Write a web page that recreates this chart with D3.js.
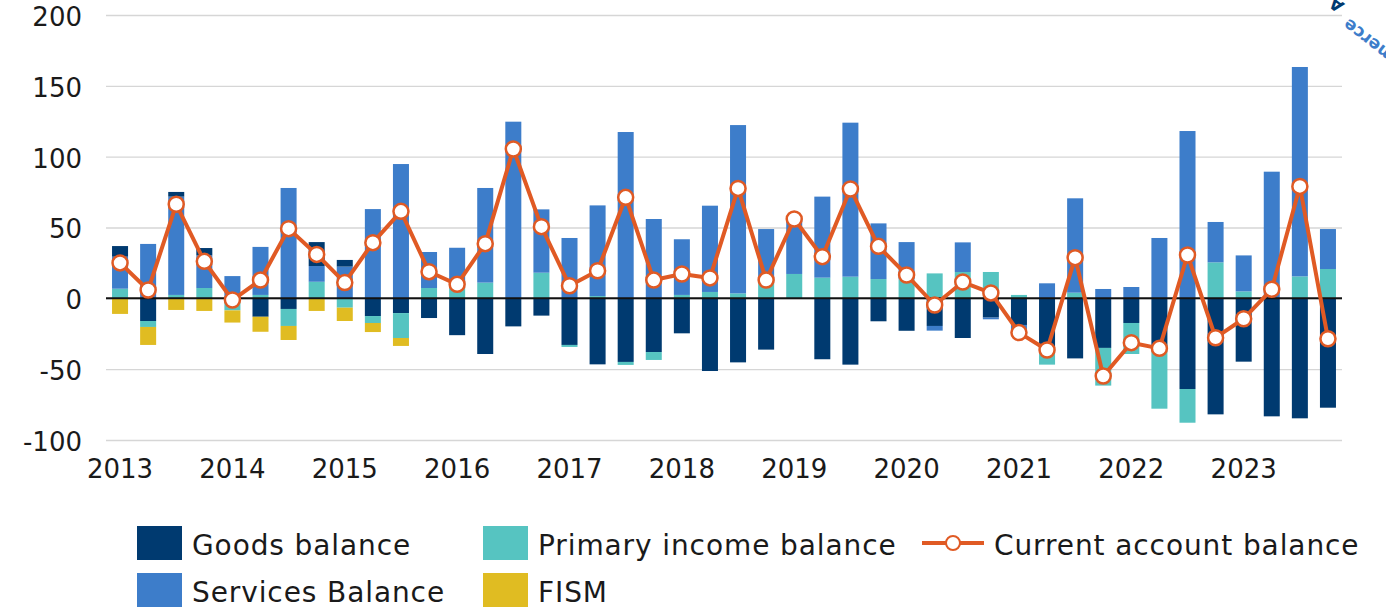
<!DOCTYPE html>
<html>
<head>
<meta charset="utf-8">
<script src="https://cdn.jsdelivr.net/npm/d3@7"></script>
<style>
  body { margin: 0; background: #fff; }
  svg text { font-family: "DejaVu Sans", sans-serif; fill: #1a1a1a; }
</style>
</head>
<body>
<svg id="chart" width="1386" height="608"></svg>
<script>
// quarterly data, 2013Q1 .. 2023Q4
const quarters = [
  "2013Q1","2013Q2","2013Q3","2013Q4","2014Q1","2014Q2","2014Q3","2014Q4",
  "2015Q1","2015Q2","2015Q3","2015Q4","2016Q1","2016Q2","2016Q3","2016Q4",
  "2017Q1","2017Q2","2017Q3","2017Q4","2018Q1","2018Q2","2018Q3","2018Q4",
  "2019Q1","2019Q2","2019Q3","2019Q4","2020Q1","2020Q2","2020Q3","2020Q4",
  "2021Q1","2021Q2","2021Q3","2021Q4","2022Q1","2022Q2","2022Q3","2022Q4",
  "2023Q1","2023Q2","2023Q3","2023Q4"
];
const goods = [
  7.5, -16, 3.3, 5.2, -2, -13, -7.5, 16.9,
  4.7, -12.5, -10.4, -13.9, -26, -39.3, -19.8, -12.2,
  -32.9, -46.6, -44.9, -37.9, -24.7, -51.3, -45.2, -36.2,
  0, -43, -46.8, -16.2, -22.9, -19.5, -28, -13.6,
  -18.8, -38.6, -42.4, -35, -17.4, -36, -64, -81.9,
  -44.7, -83.3, -84.7, -77.2
];
const services = [
  22.6, 38.4, 69.4, 23, 15.7, 33.9, 77.9, 11.1,
  22.4, 63, 94.8, 25.4, 28.6, 66.8, 124.7, 44.7,
  42.6, 64, 117.4, 56, 39.3, 60.9, 118.8, 38.3,
  38.8, 57.2, 108.7, 39.3, 26.3, -3.3, 20.9, -1.2,
  -7, 10.6, 66.6, 6.6, 8, 42.6, 118.1, 28.5,
  25.4, 89.4, 147.8, 28.2
];
const primaryIncome = [
  6.8, -4.2, 2.4, 7.3, -6.5, 2.4, -12, 11.7,
  -6.6, -4.9, -17.6, 7.3, 7.1, 11.1, 0, 18.1,
  -1.4, 1.6, -2.1, -5.6, 2.4, 4.5, 3.5, 10.6,
  17.2, 14.6, 15.3, 13.6, 13.4, 17.6, 18.6, 18.6,
  2.4, -8.2, 4, -26.6, -21.9, -41.9, -23.8, 25.4,
  4.9, 0, 15.5, 20.7
];
const fism = [
  -11, -12.7, -8.2, -8.9, -8.6, -10.6, -9.9, -8.9,
  -9.4, -6.4, -5.6, 0, 0, 0, 0, 0,
  0, 0, 0, 0, 0, 0, 0, 0,
  0, 0, 0, 0, 0, 0, 0, 0,
  0, 0, 0, 0, 0, 0, 0, 0,
  0, 0, 0, 0
];
const currentAccount = [
  25, 5.9, 66.4, 26.1, -1.2, 12.9, 49.2, 31,
  11.1, 39.3, 61.4, 18.8, 9.9, 38.6, 105.4, 50.6,
  8.9, 19.5, 71.3, 12.9, 17.2, 14.4, 77.6, 12.9,
  56, 29.4, 77.2, 36.7, 16.5, -4.7, 11.5, 3.8,
  -24.2, -36.5, 28.7, -54.8, -31.3, -35.3, 30.6, -27.8,
  -14.4, 6.4, 79, -28.5
];
const yTicks = [-100, -50, 0, 50, 100, 150, 200];
const yearLabels = ["2013","2014","2015","2016","2017","2018","2019","2020","2021","2022","2023"];

const names = {
  goods: "Goods balance",
  services: "Services Balance",
  primary: "Primary income balance",
  fism: "FISM",
  ca: "Current account balance"
};
const colors = {
  goods: "#003a70",
  services: "#3d7dca",
  primary: "#56c4c1",
  fism: "#e0bc22",
  ca: "#e05a24"
};

const plotLeft = 106, plotRight = 1342, plotTop = 15, plotBottom = 440;

const svg = d3.select("#chart");

const x = d3.scaleBand()
  .domain(quarters)
  .range([plotLeft, plotRight])
  .paddingInner(0.43)
  .paddingOuter(0.215);

const y = d3.scaleLinear()
  .domain([-100, 200])
  .range([plotBottom, plotTop]);

// gridlines + y labels
svg.append("g")
  .attr("transform", "translate(" + plotLeft + ",0)")
  .call(d3.axisLeft(y).tickValues(yTicks).tickSize(-(plotRight - plotLeft)).tickPadding(24)
    .tickFormat(d => String(d)))
  .attr("font-family", null).attr("font-size", null)
  .call(g => g.select(".domain").remove())
  .call(g => g.selectAll("line").attr("stroke", "#d6d6d6").attr("stroke-width", 1.3))
  .call(g => g.selectAll("text").style("font-size", "26px").attr("dy", "0.4em"));

// year labels under the first quarter of each year
svg.append("g")
  .attr("transform", "translate(0," + plotBottom + ")")
  .call(d3.axisBottom(x).tickValues(quarters.filter(q => q.endsWith("Q1")))
    .tickSize(0).tickPadding(20)
    .tickFormat((q, i) => yearLabels[i]))
  .attr("font-family", null).attr("font-size", null)
  .call(g => g.select(".domain").remove())
  .call(g => g.selectAll("text").style("font-size", "26px"));

const rows = quarters.map((q, i) => ({
  q: q, goods: goods[i], services: services[i], primary: primaryIncome[i], fism: fism[i]
}));

// positive parts stack up from zero: primary, services, goods
// negative parts stack down from zero: goods, services, primary, fism
const posStack = d3.stack()
  .keys(["primary", "services", "goods", "fism"])
  .value((d, k) => Math.max(0, d[k]))(rows);
const negStack = d3.stack()
  .keys(["goods", "services", "primary", "fism"])
  .value((d, k) => Math.min(0, d[k]))
  .offset(d3.stackOffsetDiverging)(rows);

const bars = svg.append("g");
[posStack, negStack].forEach(stack => {
  bars.append("g").selectAll("g")
    .data(stack)
    .join("g")
      .attr("fill", s => colors[s.key])
    .selectAll("rect")
    .data(s => s.filter(d => d[1] !== d[0]))
    .join("rect")
      .attr("x", d => x(d.data.q))
      .attr("width", x.bandwidth())
      .attr("y", d => y(Math.max(d[0], d[1])))
      .attr("height", d => Math.abs(y(d[0]) - y(d[1])));
});

// zero line
svg.append("line")
  .attr("x1", plotLeft).attr("x2", plotRight)
  .attr("y1", y(0)).attr("y2", y(0))
  .attr("stroke", "#111").attr("stroke-width", 2);

// current account line
const cx = (q) => x(q) + x.bandwidth() / 2;
const line = d3.line()
  .x((v, i) => cx(quarters[i]))
  .y(v => y(v));

svg.append("path")
  .datum(currentAccount)
  .attr("fill", "none")
  .attr("stroke", colors.ca)
  .attr("stroke-width", 4)
  .attr("stroke-linejoin", "round")
  .attr("d", line);

svg.append("g")
  .selectAll("circle")
  .data(currentAccount)
  .join("circle")
    .attr("cx", (v, i) => cx(quarters[i]))
    .attr("cy", v => y(v))
    .attr("r", 7.5)
    .attr("fill", "#fff")
    .attr("stroke", colors.ca)
    .attr("stroke-width", 2.5);

// legend
const legendItems = [
  { key: "goods", type: "box", x: 137, y: 526 },
  { key: "services", type: "box", x: 137, y: 573 },
  { key: "primary", type: "box", x: 483, y: 526 },
  { key: "fism", type: "box", x: 483, y: 573 },
  { key: "ca", type: "line", x: 922, y: 526 }
];
const legend = svg.append("g");
legendItems.forEach(it => {
  const g = legend.append("g").attr("transform", "translate(" + it.x + "," + it.y + ")");
  let tx;
  if (it.type === "box") {
    g.append("rect").attr("width", 45).attr("height", 34).attr("fill", colors[it.key]);
    tx = 55;
  } else {
    g.append("line").attr("x1", 0).attr("x2", 62).attr("y1", 17).attr("y2", 17)
      .attr("stroke", colors.ca).attr("stroke-width", 4);
    g.append("circle").attr("cx", 31).attr("cy", 17).attr("r", 7)
      .attr("fill", "#fff").attr("stroke", colors.ca).attr("stroke-width", 2);
    tx = 72;
  }
  g.append("text")
    .attr("x", tx).attr("y", 29)
    .style("font-size", "28px")
    .style("letter-spacing", "0.9px")
    .text(names[it.key]);
});

// clipped stamp text in the top-right corner
svg.append("text")
  .attr("transform", "translate(1349,18) rotate(218)")
  .attr("text-anchor", "end")
  .style("font-size", "17px").style("font-weight", "bold")
  .style("fill", "#3d7dca")
  .text("Commerce");
svg.append("text")
  .attr("transform", "translate(1340,0) rotate(218)")
  .attr("text-anchor", "middle")
  .style("font-size", "17px").style("font-weight", "bold")
  .style("fill", "#003a70")
  .text("A");
</script>
</body>
</html>
